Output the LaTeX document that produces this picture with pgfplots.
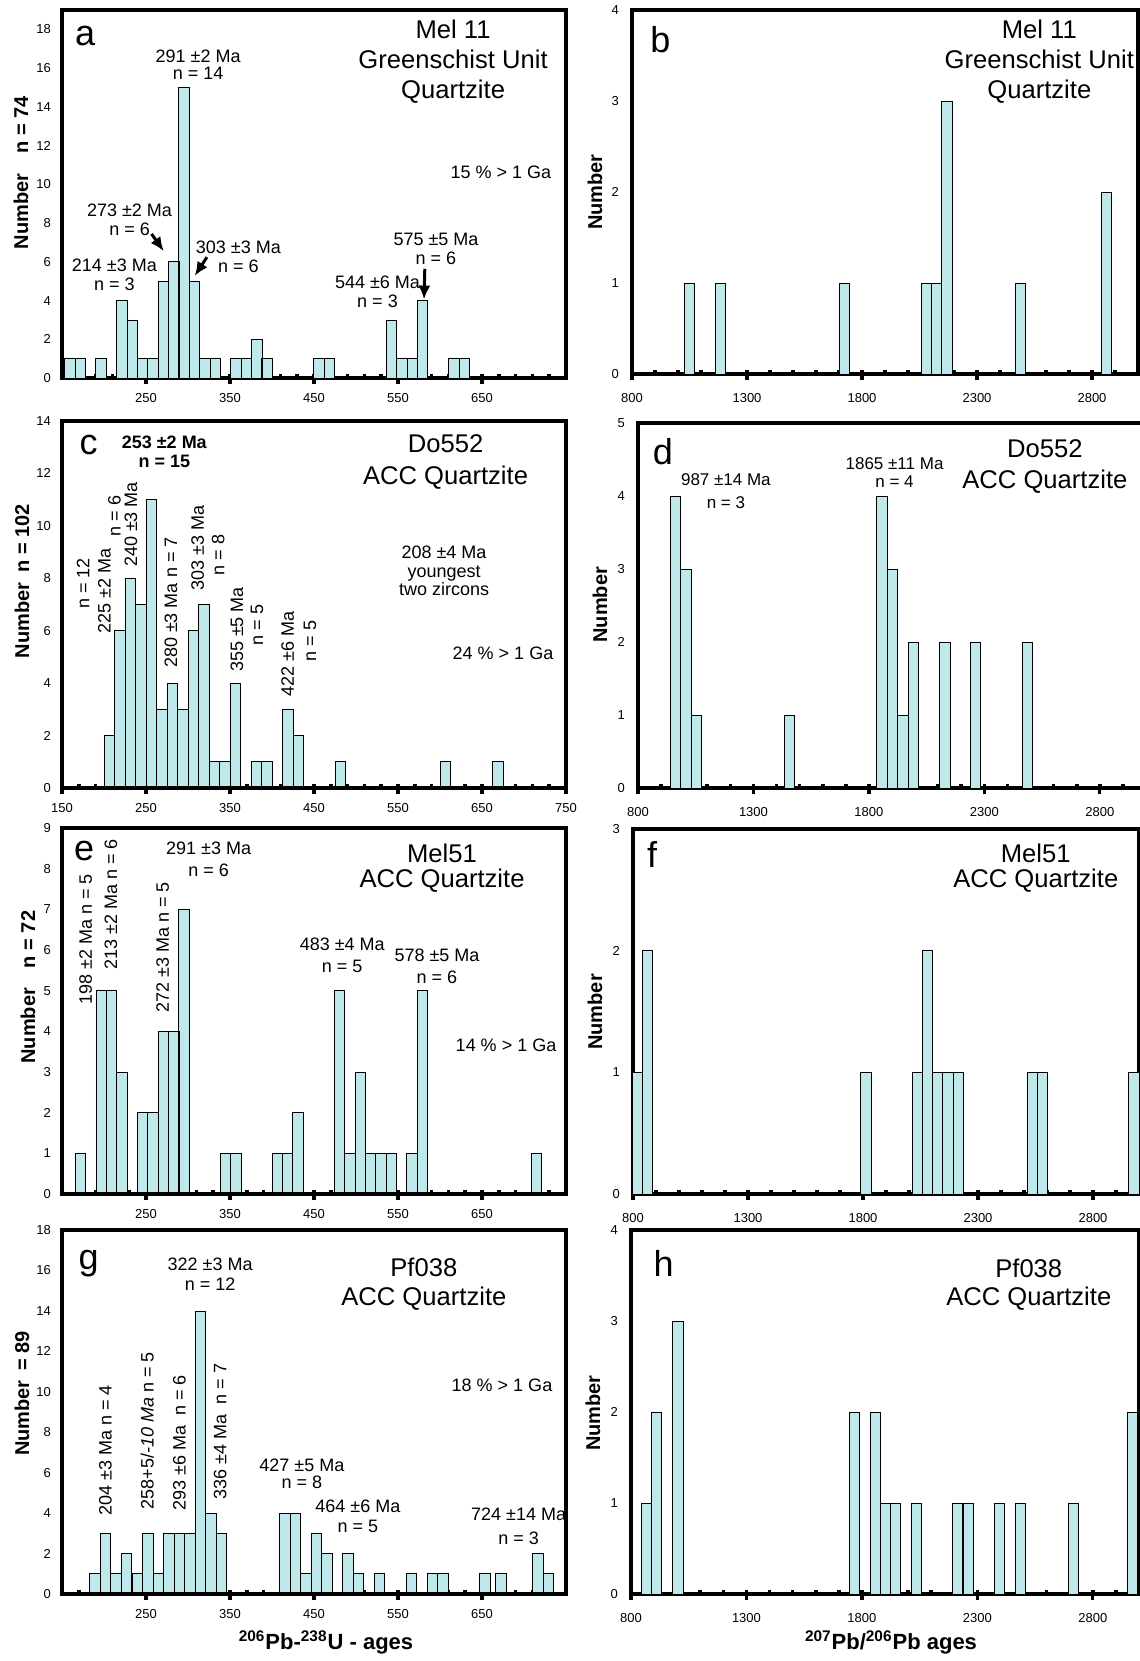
\documentclass[border=0pt]{standalone}
\usepackage{fontspec}
\setmainfont{Liberation Sans}
\usepackage{pgfplots}
\pgfplotsset{compat=1.18}
\usetikzlibrary{arrows.meta}
\definecolor{barc}{RGB}{191,232,234}
\newcommand{\fs}[2]{\fontsize{#1}{#2}\selectfont}
\tikzset{
  letter/.style={font=\fs{18}{18}, inner sep=0pt},
  title/.style={font=\fs{12.8}{15}, align=center, inner sep=0pt},
  ann/.style={font=\fs{9}{9.5}, align=center, inner sep=0pt},
  rot/.style={font=\fs{9}{10}, rotate=90, inner sep=0pt},
  ylab/.style={font=\fs{10}{12}\bfseries, rotate=90, inner sep=0pt},
  arr/.style={-{Latex[length=7pt,width=6pt]}, line width=1.5pt},
}
\pgfplotsset{
  panel/.style={
    scale only axis, anchor=north west, clip=false,
    axis line style={line width=1.6pt},
    ymin=0,
    tick label style={font=\fs{6.5}{7}},
    /pgf/number format/assume math mode=true,
    /pgf/number format/1000 sep={},
    xtick pos=bottom, ytick pos=left,
    every tick/.append style={black},
    xtick align=outside,
    major tick style={line width=1.6pt, black},
    major tick length=3pt,
    minor tick style={line width=1.8pt, black, yshift=2.2pt},
    minor tick length=3pt,
    ytick style={draw=none},
    ybar, bar shift=0pt,
    cycle list={{fill=barc, draw=black!70, line width=0.45pt}},
  },
  leftp/.style={panel, width=252pt, xmin=150, xmax=750,
    minor xtick={150,170,...,750},
    xticklabel style={yshift=-1pt}, yticklabel style={xshift=-2pt}},
  rightp/.style={panel, xmin=800, xmax=3000, xtick={800,1300,...,2800},
    minor xtick={800,900,...,3000}, bar width=44,
    xticklabel style={yshift=-3pt}, yticklabel style={xshift=-3pt}},
}
\begin{document}
\begin{tikzpicture}
\path[use as bounding box] (0,0) rectangle (570pt,-830.5pt);

% ---------------- a
\begin{axis}[leftp, at={(31pt,-5pt)}, height=184pt, ymax=19, ytick={0,2,...,18},
  xtick={250,350,450,550,650}, bar width=12.35]
\addplot coordinates {(159.5,1) (171.8,1) (196.5,1) (221.2,4) (233.6,3) (245.9,1) (258.3,1) (270.6,5) (283.0,6) (295.3,15) (307.7,5) (320.0,1) (332.4,1) (357.1,1) (369.4,1) (381.8,2) (394.1,1) (455.9,1) (468.2,1) (542.3,3) (554.7,1) (567.0,1) (579.4,4) (616.4,1) (628.8,1)};
\node[letter] at (rel axis cs:0.046,0.93) {a};
\node[title] at (rel axis cs:0.776,0.861) {Mel 11\\Greenschist Unit\\Quartzite};
\node[ann, font=\fs{9}{8.5}] at (rel axis cs:0.27,0.852) {291 ±2 Ma\\n = 14};
\node[ann] at (rel axis cs:0.871,0.560) {15 \% > 1 Ga};
\node[ann] at (rel axis cs:0.134,0.431) {273 ±2 Ma\\n = 6};
\node[ann] at (rel axis cs:0.104,0.281) {214 ±3 Ma\\n = 3};
\node[ann] at (rel axis cs:0.35,0.329) {303 ±3 Ma\\n = 6};
\node[ann] at (rel axis cs:0.742,0.35) {575 ±5 Ma\\n = 6};
\node[ann] at (rel axis cs:0.626,0.235) {544 ±6 Ma\\n = 3};
\draw[arr] (axis cs:256.6,7.44) -- (axis cs:271.1,6.55);
\draw[arr] (axis cs:322.5,6.24) -- (axis cs:308,5.27);
\draw[arr] (axis cs:581.9,5.64) -- (axis cs:581,4.05);
\node[ylab] at ([xshift=-20.5pt]rel axis cs:0,0.558) {Number\hspace{10pt}n = 74};
\end{axis}

% ---------------- b
\begin{axis}[rightp, at={(316pt,-5pt)}, width=253pt, height=182pt, ymax=4, ytick={0,1,...,4}]
\addplot coordinates {(1048,1) (1184,1) (1724,1) (2081,1) (2125,1) (2169,3) (2490,1) (2864,2)};
\node[letter] at (rel axis cs:0.056,0.918) {b};
\node[title] at (rel axis cs:0.805,0.858) {Mel 11\\Greenschist Unit\\Quartzite};
\node[ylab] at ([xshift=-18.5pt]rel axis cs:0,0.5) {Number};
\end{axis}

% ---------------- c
\begin{axis}[leftp, at={(31pt,-210.5pt)}, height=183.5pt, ymax=14, ytick={0,2,...,14},
  xtick={150,250,...,750}, bar width=12.5]
\addplot coordinates {(206.25,2) (218.75,6) (231.25,8) (243.75,7) (256.25,11) (268.75,3) (281.25,4) (293.75,3) (306.25,6) (318.75,7) (331.25,1) (343.75,1) (356.25,4) (381.25,1) (393.75,1) (418.75,3) (431.25,2) (481.25,1) (606.25,1) (668.75,1)};
\draw[line width=2.4pt] (rel axis cs:0,0) -- (rel axis cs:1,0);
\node[letter] at (rel axis cs:0.053,0.936) {c};
\node[ann, font=\fs{9}{9.5}\bfseries] at (rel axis cs:0.203,0.915) {253 ±2 Ma\\n = 15};
\node[title, font=\fs{12.8}{15.8}] at (rel axis cs:0.761,0.889) {Do552\\ACC Quartzite};
\node[ann, font=\fs{9}{9.2}] at (rel axis cs:0.758,0.591) {208 ±4 Ma\\youngest\\two zircons};
\node[ann] at (rel axis cs:0.875,0.368) {24 \% > 1 Ga};
\node[rot] at (rel axis cs:0.042,0.557) {n = 12};
\node[rot] at (rel axis cs:0.084,0.536) {225 ±2 Ma};
\node[rot] at (rel axis cs:0.104,0.741) {n = 6};
\node[rot] at (rel axis cs:0.137,0.718) {240 ±3 Ma};
\node[rot] at (rel axis cs:0.216,0.505) {280 ±3 Ma n = 7};
\node[rot] at (rel axis cs:0.269,0.655) {303 ±3 Ma};
\node[rot] at (rel axis cs:0.310,0.635) {n = 8};
\node[rot] at (rel axis cs:0.347,0.432) {355 ±5 Ma};
\node[rot] at (rel axis cs:0.387,0.444) {n = 5};
\node[rot] at (rel axis cs:0.448,0.364) {422 ±6 Ma};
\node[rot] at (rel axis cs:0.492,0.40) {n = 5};
\node[ylab] at ([xshift=-20pt]rel axis cs:0,0.564) {Number\hspace{5pt}n = 102};
\end{axis}

% ---------------- d
\begin{axis}[rightp, at={(319pt,-211.5pt)}, width=254pt, height=182.5pt, ymax=5, ytick={0,1,...,5}, bar width=45]
\addplot coordinates {(962,4) (1007,3) (1052,1) (1456,1) (1857,4) (1903,3) (1948,1) (1992,2) (2129,2) (2262,2) (2486,2)};
\node[letter] at (rel axis cs:0.049,0.922) {d};
\node[ann, font=\fs{8.5}{11.7}] at (rel axis cs:0.173,0.813) {987 ±14 Ma\\n = 3};
\node[ann, font=\fs{8.5}{8.7}] at (rel axis cs:0.505,0.864) {1865 ±11 Ma\\n = 4};
\node[title, font=\fs{12.8}{15.5}] at (rel axis cs:0.801,0.88) {Do552\\ACC Quartzite};
\node[ylab] at ([xshift=-19pt]rel axis cs:0,0.502) {Number};
\end{axis}

% ---------------- e
\begin{axis}[leftp, at={(31pt,-414pt)}, height=183pt, ymax=9, ytick={0,1,...,9},
  xtick={250,350,450,550,650}, bar width=12.33]
\addplot coordinates {(172.0,1) (196.6,5) (209.0,5) (221.3,3) (246.0,2) (258.3,2) (270.6,4) (283.0,4) (295.3,7) (344.6,1) (356.9,1) (406.2,1) (418.6,1) (430.9,2) (480.2,5) (492.6,1) (504.9,3) (517.2,1) (529.5,1) (541.9,1) (566.5,1) (578.9,5) (714.5,1)};
\draw[line width=2.4pt] (rel axis cs:0,0) -- (rel axis cs:1,0);
\node[letter] at (rel axis cs:0.044,0.937) {e};
\node[title, font=\fs{12.8}{12.5}] at (rel axis cs:0.754,0.889) {Mel51\\ACC Quartzite};
\node[ann, font=\fs{9}{11}] at (rel axis cs:0.291,0.914) {291 ±3 Ma\\n = 6};
\node[ann, font=\fs{9}{11.3}] at (rel axis cs:0.556,0.652) {483 ±4 Ma\\n = 5};
\node[ann, font=\fs{9}{11}] at (rel axis cs:0.744,0.6215) {578 ±5 Ma\\n = 6};
\node[ann] at (rel axis cs:0.881,0.406) {14 \% > 1 Ga};
\node[rot] at (rel axis cs:0.047,0.696) {198 ±2 Ma n = 5};
\node[rot] at (rel axis cs:0.097,0.791) {213 ±2 Ma n = 6};
\node[rot] at (rel axis cs:0.2,0.674) {272 ±3 Ma n = 5};
\node[ylab] at ([xshift=-17pt]rel axis cs:0,0.565) {Number\hspace{10pt}n = 72};
\end{axis}

% ---------------- f
\begin{axis}[rightp, at={(316.5pt,-414.5pt)}, width=253pt, height=182.5pt, ymax=3, ytick={0,1,2,3}]
\addplot coordinates {(818,1) (862.6,2) (1812.6,1) (2037,1) (2081,2) (2125,1) (2169,1) (2213,1) (2535,1) (2579,1) (2978,1)};
\node[letter] at (rel axis cs:0.038,0.931) {f};
\node[title, font=\fs{12.8}{12.5}] at (rel axis cs:0.796,0.894) {Mel51\\ACC Quartzite};
\node[ylab] at ([xshift=-19pt]rel axis cs:0,0.499) {Number};
\end{axis}

% ---------------- g
\begin{axis}[leftp, at={(31pt,-615pt)}, height=182pt, ymax=18, ytick={0,2,...,18},
  xtick={250,350,450,550,650}, bar width=12.55]
\addplot coordinates {(189.3,1) (201.8,3) (214.4,1) (226.9,2) (239.5,1) (252.0,3) (264.6,1) (277.1,3) (289.7,3) (302.2,3) (314.8,14) (327.3,4) (339.9,3) (415.2,4) (427.7,4) (440.3,1) (452.8,3) (465.4,2) (490.5,2) (503.0,1) (528.1,1) (565.8,1) (590.9,1) (603.5,1) (653.7,1) (672.6,1) (716.4,2) (728.9,1)};
\draw[line width=2.4pt] (rel axis cs:0,0) -- (rel axis cs:1,0);
\node[letter] at (rel axis cs:0.053,0.907) {g};
\node[title, font=\fs{12.8}{14.5}] at (rel axis cs:0.718,0.85) {Pf038\\ACC Quartzite};
\node[ann, font=\fs{9}{10}] at (rel axis cs:0.294,0.878) {322 ±3 Ma\\n = 12};
\node[ann] at (rel axis cs:0.873,0.574) {18 \% > 1 Ga};
\node[ann, font=\fs{9}{8.5}] at (rel axis cs:0.476,0.329) {427 ±5 Ma\\n = 8};
\node[ann, font=\fs{9}{10}] at (rel axis cs:0.587,0.2145) {464 ±6 Ma\\n = 5};
\node[ann, font=\fs{9}{12}] at (rel axis cs:0.906,0.1855) {724 ±14 Ma\\n = 3};
\node[rot] at (rel axis cs:0.086,0.394) {204 ±3 Ma n = 4};
\node[rot] at (rel axis cs:0.169,0.448) {258+5/\textit{-10 Ma} n = 5};
\node[rot] at (rel axis cs:0.233,0.415) {293 ±6 Ma\ \ n = 6};
\node[rot] at (rel axis cs:0.314,0.446) {336 ±4 Ma\ \ n = 7};
\node[ylab] at ([xshift=-20pt]rel axis cs:0,0.551) {Number\hspace{5pt}= 89};
\end{axis}

% ---------------- h
\begin{axis}[rightp, at={(315.5pt,-615pt)}, width=254pt, height=182pt, ymax=4, ytick={0,1,...,4}]
\addplot coordinates {(866,1) (909,2) (1003,3) (1767,2) (1857,2) (1901,1) (1946,1) (2037,1) (2215,1) (2260,1) (2396,1) (2486,1) (2716,1) (2973,2)};
\node[letter] at (rel axis cs:0.064,0.908) {h};
\node[title, font=\fs{12.8}{14}] at (rel axis cs:0.783,0.851) {Pf038\\ACC Quartzite};
\node[ylab] at ([xshift=-19pt]rel axis cs:0,0.497) {Number};
\end{axis}

\node[anchor=base, font=\fs{11}{12}\bfseries] at (163pt,-824.5pt) {\textsuperscript{206}Pb-\textsuperscript{238}U - ages};
\node[anchor=base, font=\fs{11}{12}\bfseries] at (445.5pt,-824.5pt) {\textsuperscript{207}Pb/\textsuperscript{206}Pb ages};
\end{tikzpicture}
\end{document}
